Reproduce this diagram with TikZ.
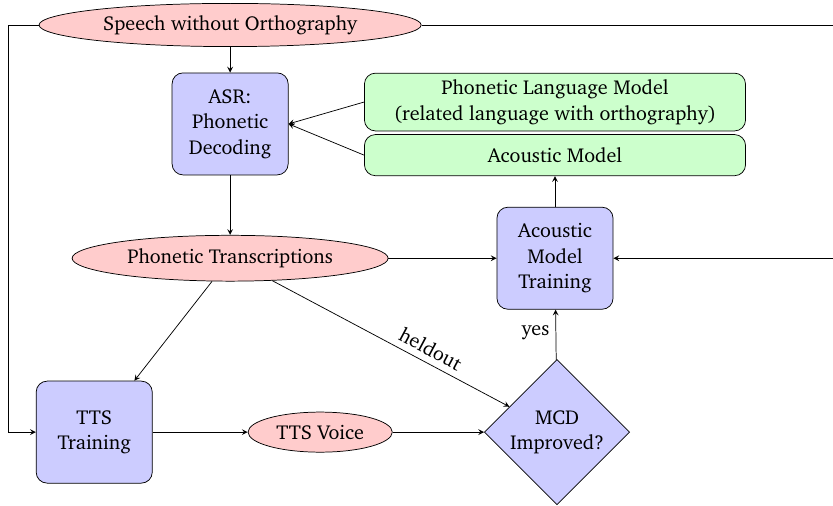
\documentclass[tikz,border=0pt]{standalone}
\usepackage[T1]{fontenc}
\usepackage{charter}
\usetikzlibrary{shapes.geometric,arrows}
\begin{document}
\begin{tikzpicture}[>=stealth,
  every node/.style={font=\fontsize{11}{14}\selectfont},
  proc/.style={draw, rounded corners=6pt, fill=blue!20, align=center, minimum width=2.23cm, minimum height=1.96cm},
  model/.style={draw, rounded corners=6pt, fill=green!20, align=center, minimum width=7.32cm},
  data/.style={draw, ellipse, fill=red!20, inner sep=1pt},
  check/.style={draw, diamond, fill=blue!20, align=center, minimum width=2.79cm, minimum height=2.79cm, inner sep=0pt}]
\useasboundingbox (0,0) rectangle (16,-9.7);
% Nodes
\node[data, minimum width=7.34cm, minimum height=0.83cm] (speech) at (4.42,-0.48) {Speech without Orthography};
\node[proc] (asr) at (4.42,-2.38) {ASR:\\Phonetic\\Decoding};
\node[model, minimum height=1.11cm] (plm) at (10.66,-1.96) {Phonetic Language Model\\(related language with orthography)};
\node[model, minimum height=0.79cm] (am) at (10.66,-2.98) {Acoustic Model};
\node[proc] (amt) at (10.66,-4.96) {Acoustic\\Model\\Training};
\node[data, minimum width=6.07cm, minimum height=0.88cm] (trans) at (4.42,-4.96) {Phonetic Transcriptions};
\node[proc] (ttst) at (1.81,-8.30) {TTS\\Training};
\node[data, minimum width=2.77cm, minimum height=0.77cm] (voice) at (6.15,-8.30) {TTS Voice};
\node[check] (mcd) at (10.70,-8.30) {MCD\\Improved?};
% Connectors
\draw[->] (speech) -- (asr);
\draw[->] (plm.west) -- (asr.east);
\draw[->] (am.west) -- (asr.east);
\draw[->] (asr) -- (trans);
\draw[->] (trans) -- (amt);
\draw[->] (amt) -- (am);
\draw[->] (trans) -- (ttst);
\draw[->] (trans) -- node[sloped, above, pos=0.64] {heldout} (mcd);
\draw[->] (ttst) -- (voice);
\draw[->] (voice) -- (mcd);
\draw[->] (mcd) -- node[left, pos=0.55] {yes} (amt);
% Feedback lines
\draw[->] (speech.west) -- ++(-0.58,0) |- (ttst.west);
\draw[->] (speech.east) -- ++(8.05,0) |- (amt.east);
\end{tikzpicture}
\end{document}
